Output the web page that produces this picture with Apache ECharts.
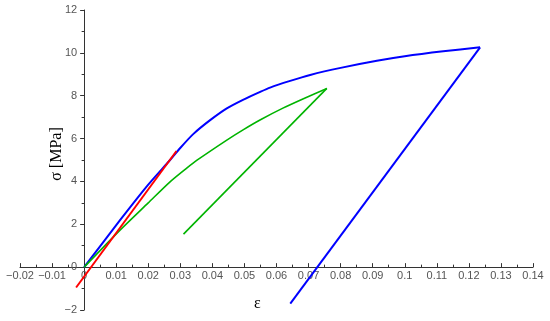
<!DOCTYPE html>
<html>
<head>
<meta charset="utf-8">
<script src="https://cdn.jsdelivr.net/npm/echarts@6/dist/echarts.min.js"></script>
<style>
  html, body { margin: 0; padding: 0; background: #fff; }
  #chart { width: 550px; height: 321px; }
</style>
</head>
<body>
<div id="chart"></div>
<script>
// strain / stress values
const blueLoad = [[0, 0], [0.0112, 2.19], [0.02, 3.85], [0.0268, 5.0], [0.0299, 5.55], [0.0341, 6.22],
  [0.0393, 6.86], [0.0445, 7.41], [0.0497, 7.82], [0.0549, 8.18], [0.058, 8.38], [0.064, 8.68],
  [0.0705, 8.97], [0.08, 9.3], [0.0913, 9.63], [0.1, 9.84], [0.112, 10.07], [0.1235, 10.26]];
const blueUnload = [[0.1235, 10.26], [0.0643, -1.7]];
const greenLoad = [[0, 0], [0.0112, 1.73], [0.02, 3.0], [0.0268, 3.98], [0.032, 4.62], [0.0351, 4.98],
  [0.0445, 5.93], [0.0497, 6.42], [0.055, 6.88], [0.062, 7.42], [0.0684, 7.86], [0.0757, 8.34]];
const greenUnload = [[0.0757, 8.34], [0.031, 1.54]];
const redLine = [[-0.0025, -0.95], [0.0288, 5.42]];

const xMin = -0.02, xMax = 0.14, xStep = 0.01;
const yMin = -2, yMax = 12, yStep = 2;

const W = 550, H = 321;
const grid = { left: 20, right: 17, top: 10, bottom: 11 };
// axes cross at zero, so push them in from the grid edge
const xOffset = -(0 - yMin) / (yMax - yMin) * (H - grid.top - grid.bottom);
const yOffset = -(0 - xMin) / (xMax - xMin) * (W - grid.left - grid.right);

function minus(v) {
  return String(+v.toFixed(2)).replace('-', '\u2212');
}

const chart = echarts.init(document.getElementById('chart'));

function line(data, color, width, smooth) {
  return {
    type: 'line', data: data, symbol: 'none', smooth: smooth ? 0.25 : false,
    lineStyle: { color: color, width: width }, z: 3
  };
}

chart.setOption({
  animation: false,
  grid: grid,
  xAxis: {
    type: 'value', min: xMin, max: xMax, interval: xStep, offset: xOffset,
    axisLine: { onZero: false, lineStyle: { color: '#333', width: 1 } },
    axisTick: { show: true, inside: true, length: 4, lineStyle: { color: '#333' } },
    minorTick: { show: true, splitNumber: 2, length: 2.5, lineStyle: { color: '#333' } },
    axisLabel: { color: '#555', fontSize: 11, fontFamily: 'Liberation Sans', margin: 3, formatter: minus },
    splitLine: { show: false }
  },
  yAxis: {
    type: 'value', min: yMin, max: yMax, interval: yStep, offset: yOffset,
    axisLine: { show: true, onZero: false, lineStyle: { color: '#333', width: 1 } },
    axisTick: { show: true, length: 4, lineStyle: { color: '#333' } },
    minorTick: { show: true, splitNumber: 2, length: 2.5, lineStyle: { color: '#333' } },
    axisLabel: { color: '#555', fontSize: 11, fontFamily: 'Liberation Sans', margin: 7, formatter: minus },
    splitLine: { show: false }
  },
  graphic: [
    { type: 'text', left: 254, top: 296,
      style: { text: '\u03b5', font: '16px "Liberation Serif"', fill: '#000' } },
    { type: 'text', x: 57, y: 154, rotation: Math.PI / 2, originX: 0, originY: 0,
      style: { text: '\u03c3 [MPa]', font: '16px "Liberation Serif"', fill: '#000',
        align: 'center', verticalAlign: 'middle' } }
  ],
  series: [
    line(blueLoad, '#0000ff', 2, true),
    line(blueUnload, '#0000ff', 2, false),
    line(greenLoad, '#00b400', 1.6, true),
    line(greenUnload, '#00b400', 1.6, false),
    line(redLine, '#ff0000', 2, false)
  ]
});
</script>
</body>
</html>
